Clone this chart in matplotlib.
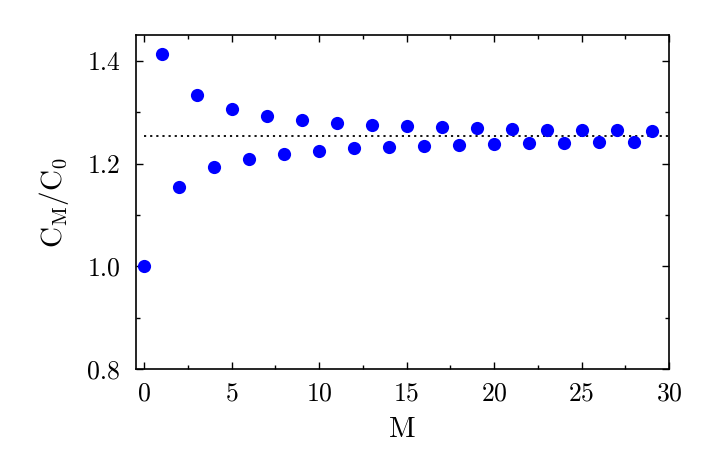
import matplotlib
matplotlib.use("Agg")
import matplotlib.pyplot as plt
from matplotlib.ticker import MultipleLocator, FuncFormatter

plt.rcParams['font.family'] = 'serif'
plt.rcParams['font.serif'] = ['cmr10']
plt.rcParams['mathtext.fontset'] = 'cm'
plt.rcParams['axes.formatter.use_mathtext'] = True

M = list(range(30))
ratio = [1.000, 1.414, 1.155, 1.333, 1.193, 1.306, 1.210, 1.293, 1.219, 1.285,
         1.225, 1.280, 1.230, 1.276, 1.233, 1.273, 1.235, 1.271, 1.237, 1.269,
         1.239, 1.268, 1.240, 1.266, 1.241, 1.265, 1.242, 1.265, 1.243, 1.264]
limit_value = 1.2533
limit_x = [0, 30]

fig = plt.figure(figsize=(7.05, 4.72), dpi=100)
ax = fig.add_axes([135.5/705, 1 - 369/472, (669 - 135.5)/705, (369 - 35.3)/472])

ax.plot(limit_x, [limit_value, limit_value], linestyle=(0, (1.2, 2.2)), color='black', lw=1.3)
ax.plot(M, ratio, 'o', color='#0000ff', markersize=9.5, markeredgewidth=0)

ax.set_xlim(-0.5, 30)
ax.set_ylim(0.8, 1.45)
ax.xaxis.set_major_locator(MultipleLocator(5))
ax.xaxis.set_minor_locator(MultipleLocator(2.5))
ax.yaxis.set_major_locator(MultipleLocator(0.2))
ax.yaxis.set_minor_locator(MultipleLocator(0.1))
ax.yaxis.set_major_formatter(FuncFormatter(lambda v, p: f"{v:.1f}"))
ax.tick_params(which='both', direction='in', top=True, right=True, labelsize=18.5, width=1.0)
ax.tick_params(which='major', length=5)
ax.tick_params(which='minor', length=3)
ax.tick_params(axis='x', which='major', pad=9)
ax.tick_params(axis='y', which='major', pad=11)
for s in ax.spines.values():
    s.set_linewidth(1.2)

ax.set_xlabel('M', fontsize=21, labelpad=8)
ax.set_ylabel(r'$\mathrm{C_M/C_0}$', fontsize=21, labelpad=12)

fig.savefig('out.png', dpi=100)
